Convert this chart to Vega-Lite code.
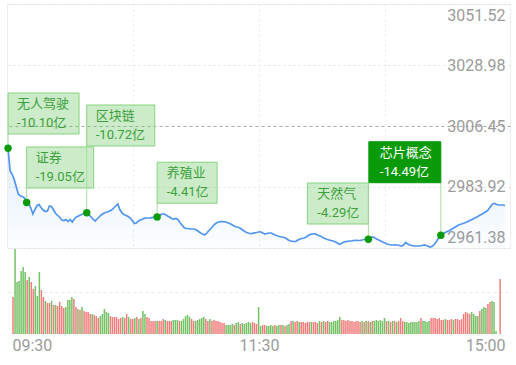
{
  "$schema": "https://vega.github.io/schema/vega-lite/v6.json",
  "padding": {"left": 3, "top": 3, "right": 6, "bottom": 0},
  "spacing": 1,
  "bounds": "flush",
  "config": {
    "font": "Roboto, 'Noto Sans CJK SC', sans-serif",
    "view": {"stroke": "#eeeeee"},
    "axis": {"labelFont": "Roboto", "labelColor": "#9b9b9b", "labelFontSize": 16, "title": null, "ticks": false, "domain": false, "minExtent": 0}
  },
  "datasets": {
    "ev": [
      {"i": 0, "p": 2998.21, "name": "无人驾驶", "amt": "-10.10亿"},
      {"i": 9, "p": 2978.19, "name": "证券", "amt": "-19.05亿"},
      {"i": 38, "p": 2974.42, "name": "区块链", "amt": "-10.72亿"},
      {"i": 72, "p": 2972.83, "name": "养殖业", "amt": "-4.41亿"},
      {"i": 174, "p": 2964.59, "name": "天然气", "amt": "-4.29亿"},
      {"i": 209, "p": 2966.07, "name": "芯片概念", "amt": "-14.49亿"}
    ],
    "m": [
      {"i":0,"p":2998.21,"v":37,"d":"up"},{"i":1,"p":2989.83,"v":85,"d":"down"},{"i":2,"p":2988.61,"v":52,"d":"down"},{"i":3,"p":2986.69,"v":53,"d":"down"},{"i":4,"p":2983.92,"v":63,"d":"down"},
      {"i":5,"p":2981.22,"v":67,"d":"down"},{"i":6,"p":2980.59,"v":62,"d":"down"},{"i":7,"p":2980.41,"v":54,"d":"up"},{"i":8,"p":2979.85,"v":57,"d":"down"},{"i":9,"p":2978.19,"v":52,"d":"up"},
      {"i":10,"p":2977.82,"v":45,"d":"up"},{"i":11,"p":2976.16,"v":48,"d":"down"},{"i":12,"p":2973.94,"v":38,"d":"down"},{"i":13,"p":2975.60,"v":62,"d":"down"},{"i":14,"p":2977.08,"v":44,"d":"up"},
      {"i":15,"p":2977.45,"v":37,"d":"up"},{"i":16,"p":2976.23,"v":33,"d":"down"},{"i":17,"p":2975.42,"v":31,"d":"up"},{"i":18,"p":2974.86,"v":31,"d":"up"},{"i":19,"p":2975.05,"v":33,"d":"down"},
      {"i":20,"p":2976.90,"v":29,"d":"up"},{"i":21,"p":2976.71,"v":29,"d":"down"},{"i":22,"p":2975.42,"v":28,"d":"up"},{"i":23,"p":2974.13,"v":32,"d":"up"},{"i":24,"p":2973.39,"v":28,"d":"up"},
      {"i":25,"p":2972.65,"v":26,"d":"up"},{"i":26,"p":2971.72,"v":27,"d":"down"},{"i":27,"p":2971.54,"v":34,"d":"down"},{"i":28,"p":2971.91,"v":34,"d":"down"},{"i":29,"p":2971.17,"v":37,"d":"down"},
      {"i":30,"p":2971.91,"v":35,"d":"up"},{"i":31,"p":2970.99,"v":27,"d":"up"},{"i":32,"p":2972.09,"v":25,"d":"down"},{"i":33,"p":2972.83,"v":24,"d":"up"},{"i":34,"p":2973.20,"v":27,"d":"down"},
      {"i":35,"p":2973.57,"v":23,"d":"up"},{"i":36,"p":2973.94,"v":22,"d":"up"},{"i":37,"p":2974.13,"v":22,"d":"up"},{"i":38,"p":2974.42,"v":20,"d":"up"},{"i":39,"p":2973.76,"v":20,"d":"down"},
      {"i":40,"p":2972.91,"v":19,"d":"up"},{"i":41,"p":2972.09,"v":18,"d":"up"},{"i":42,"p":2971.36,"v":16,"d":"up"},{"i":43,"p":2972.09,"v":18,"d":"down"},{"i":44,"p":2972.83,"v":20,"d":"down"},
      {"i":45,"p":2973.57,"v":25,"d":"down"},{"i":46,"p":2974.13,"v":22,"d":"down"},{"i":47,"p":2974.50,"v":21,"d":"down"},{"i":48,"p":2974.68,"v":18,"d":"up"},{"i":49,"p":2975.05,"v":17,"d":"up"},
      {"i":50,"p":2975.42,"v":17,"d":"up"},{"i":51,"p":2976.16,"v":17,"d":"up"},{"i":52,"p":2976.90,"v":15,"d":"up"},{"i":53,"p":2977.64,"v":16,"d":"up"},{"i":54,"p":2975.60,"v":17,"d":"down"},
      {"i":55,"p":2974.31,"v":16,"d":"up"},{"i":56,"p":2973.76,"v":20,"d":"up"},{"i":57,"p":2973.39,"v":17,"d":"down"},{"i":58,"p":2973.02,"v":15,"d":"up"},{"i":59,"p":2972.46,"v":15,"d":"up"},
      {"i":60,"p":2971.54,"v":16,"d":"down"},{"i":61,"p":2970.43,"v":17,"d":"up"},{"i":62,"p":2970.62,"v":15,"d":"down"},{"i":63,"p":2971.36,"v":16,"d":"up"},{"i":64,"p":2971.72,"v":23,"d":"down"},
      {"i":65,"p":2972.09,"v":20,"d":"down"},{"i":66,"p":2972.39,"v":17,"d":"up"},{"i":67,"p":2972.46,"v":16,"d":"up"},{"i":68,"p":2972.46,"v":13,"d":"up"},{"i":69,"p":2972.53,"v":13,"d":"up"},
      {"i":70,"p":2972.72,"v":13,"d":"up"},{"i":71,"p":2972.83,"v":13,"d":"down"},{"i":72,"p":2972.83,"v":13,"d":"up"},{"i":73,"p":2973.20,"v":13,"d":"up"},{"i":74,"p":2973.83,"v":15,"d":"up"},
      {"i":75,"p":2974.02,"v":14,"d":"down"},{"i":76,"p":2973.76,"v":13,"d":"up"},{"i":77,"p":2973.20,"v":13,"d":"up"},{"i":78,"p":2972.83,"v":13,"d":"up"},{"i":79,"p":2972.28,"v":14,"d":"down"},
      {"i":80,"p":2972.09,"v":14,"d":"down"},{"i":81,"p":2972.28,"v":14,"d":"down"},{"i":82,"p":2971.91,"v":13,"d":"up"},{"i":83,"p":2970.80,"v":13,"d":"down"},{"i":84,"p":2969.88,"v":15,"d":"down"},
      {"i":85,"p":2968.95,"v":18,"d":"down"},{"i":86,"p":2968.58,"v":19,"d":"down"},{"i":87,"p":2968.58,"v":17,"d":"down"},{"i":88,"p":2968.40,"v":15,"d":"up"},{"i":89,"p":2968.40,"v":13,"d":"up"},
      {"i":90,"p":2968.40,"v":13,"d":"down"},{"i":91,"p":2968.03,"v":14,"d":"down"},{"i":92,"p":2967.48,"v":15,"d":"down"},{"i":93,"p":2966.92,"v":16,"d":"down"},{"i":94,"p":2966.55,"v":17,"d":"down"},
      {"i":95,"p":2966.18,"v":15,"d":"up"},{"i":96,"p":2966.92,"v":13,"d":"up"},{"i":97,"p":2967.85,"v":15,"d":"down"},{"i":98,"p":2968.58,"v":13,"d":"up"},{"i":99,"p":2969.51,"v":14,"d":"up"},
      {"i":100,"p":2970.25,"v":13,"d":"up"},{"i":101,"p":2970.80,"v":13,"d":"up"},{"i":102,"p":2971.06,"v":12,"d":"up"},{"i":103,"p":2971.17,"v":11,"d":"up"},{"i":104,"p":2971.10,"v":11,"d":"up"},
      {"i":105,"p":2971.06,"v":9,"d":"down"},{"i":106,"p":2970.73,"v":9,"d":"down"},{"i":107,"p":2970.43,"v":9,"d":"down"},{"i":108,"p":2970.06,"v":10,"d":"down"},{"i":109,"p":2969.58,"v":9,"d":"up"},
      {"i":110,"p":2969.21,"v":11,"d":"down"},{"i":111,"p":2969.03,"v":12,"d":"down"},{"i":112,"p":2968.77,"v":10,"d":"up"},{"i":113,"p":2968.22,"v":11,"d":"down"},{"i":114,"p":2967.66,"v":10,"d":"down"},
      {"i":115,"p":2967.22,"v":11,"d":"down"},{"i":116,"p":2966.92,"v":12,"d":"down"},{"i":117,"p":2966.66,"v":11,"d":"down"},{"i":118,"p":2966.81,"v":12,"d":"up"},{"i":119,"p":2966.99,"v":11,"d":"up"},
      {"i":120,"p":2967.11,"v":10,"d":"up"},{"i":121,"p":2967.29,"v":27,"d":"down"},{"i":122,"p":2967.36,"v":8,"d":"down"},{"i":123,"p":2966.92,"v":9,"d":"up"},{"i":124,"p":2966.55,"v":9,"d":"up"},
      {"i":125,"p":2966.74,"v":8,"d":"down"},{"i":126,"p":2966.92,"v":8,"d":"down"},{"i":127,"p":2966.92,"v":9,"d":"down"},{"i":128,"p":2966.55,"v":8,"d":"down"},{"i":129,"p":2966.18,"v":9,"d":"up"},
      {"i":130,"p":2965.89,"v":8,"d":"down"},{"i":131,"p":2965.63,"v":9,"d":"down"},{"i":132,"p":2965.45,"v":9,"d":"up"},{"i":133,"p":2965.33,"v":9,"d":"down"},{"i":134,"p":2965.07,"v":8,"d":"up"},
      {"i":135,"p":2964.52,"v":9,"d":"down"},{"i":136,"p":2964.04,"v":10,"d":"down"},{"i":137,"p":2963.89,"v":13,"d":"up"},{"i":138,"p":2963.78,"v":13,"d":"down"},{"i":139,"p":2963.85,"v":12,"d":"up"},
      {"i":140,"p":2964.34,"v":13,"d":"up"},{"i":141,"p":2964.71,"v":12,"d":"down"},{"i":142,"p":2964.89,"v":12,"d":"up"},{"i":143,"p":2965.07,"v":12,"d":"up"},{"i":144,"p":2965.45,"v":11,"d":"up"},
      {"i":145,"p":2966.00,"v":12,"d":"up"},{"i":146,"p":2966.44,"v":12,"d":"up"},{"i":147,"p":2966.55,"v":12,"d":"down"},{"i":148,"p":2966.66,"v":12,"d":"up"},{"i":149,"p":2966.37,"v":12,"d":"up"},
      {"i":150,"p":2966.00,"v":11,"d":"up"},{"i":151,"p":2965.70,"v":13,"d":"down"},{"i":152,"p":2965.26,"v":12,"d":"up"},{"i":153,"p":2964.89,"v":13,"d":"down"},{"i":154,"p":2964.59,"v":12,"d":"up"},
      {"i":155,"p":2964.34,"v":13,"d":"up"},{"i":156,"p":2964.15,"v":12,"d":"down"},{"i":157,"p":2963.97,"v":12,"d":"down"},{"i":158,"p":2963.67,"v":13,"d":"down"},{"i":159,"p":2963.23,"v":13,"d":"down"},
      {"i":160,"p":2962.78,"v":14,"d":"down"},{"i":161,"p":2963.04,"v":17,"d":"down"},{"i":162,"p":2963.49,"v":14,"d":"up"},{"i":163,"p":2963.74,"v":14,"d":"up"},{"i":164,"p":2963.85,"v":13,"d":"up"},
      {"i":165,"p":2963.97,"v":14,"d":"up"},{"i":166,"p":2964.04,"v":13,"d":"up"},{"i":167,"p":2964.15,"v":13,"d":"up"},{"i":168,"p":2964.22,"v":12,"d":"up"},{"i":169,"p":2964.15,"v":13,"d":"up"},
      {"i":170,"p":2964.22,"v":13,"d":"up"},{"i":171,"p":2964.34,"v":12,"d":"up"},{"i":172,"p":2964.52,"v":13,"d":"down"},{"i":173,"p":2964.59,"v":12,"d":"up"},{"i":174,"p":2964.59,"v":13,"d":"down"},
      {"i":175,"p":2965.07,"v":13,"d":"up"},{"i":176,"p":2965.45,"v":12,"d":"down"},{"i":177,"p":2965.15,"v":13,"d":"up"},{"i":178,"p":2964.71,"v":13,"d":"down"},{"i":179,"p":2964.34,"v":14,"d":"down"},
      {"i":180,"p":2963.97,"v":13,"d":"down"},{"i":181,"p":2963.60,"v":14,"d":"down"},{"i":182,"p":2963.23,"v":13,"d":"down"},{"i":183,"p":2962.86,"v":16,"d":"down"},{"i":184,"p":2962.67,"v":13,"d":"up"},
      {"i":185,"p":2962.49,"v":13,"d":"down"},{"i":186,"p":2962.49,"v":12,"d":"up"},{"i":187,"p":2962.56,"v":13,"d":"down"},{"i":188,"p":2962.49,"v":13,"d":"up"},{"i":189,"p":2962.30,"v":12,"d":"down"},
      {"i":190,"p":2962.12,"v":13,"d":"up"},{"i":191,"p":2962.49,"v":16,"d":"up"},{"i":192,"p":2963.41,"v":13,"d":"up"},{"i":193,"p":2962.86,"v":12,"d":"down"},{"i":194,"p":2962.49,"v":12,"d":"down"},
      {"i":195,"p":2962.30,"v":11,"d":"down"},{"i":196,"p":2962.12,"v":12,"d":"down"},{"i":197,"p":2962.12,"v":12,"d":"down"},{"i":198,"p":2962.12,"v":12,"d":"down"},{"i":199,"p":2962.12,"v":12,"d":"down"},
      {"i":200,"p":2962.30,"v":13,"d":"down"},{"i":201,"p":2962.49,"v":16,"d":"up"},{"i":202,"p":2962.30,"v":13,"d":"down"},{"i":203,"p":2961.93,"v":13,"d":"down"},{"i":204,"p":2961.75,"v":12,"d":"down"},
      {"i":205,"p":2962.12,"v":13,"d":"down"},{"i":206,"p":2962.86,"v":16,"d":"up"},{"i":207,"p":2963.97,"v":16,"d":"up"},{"i":208,"p":2965.26,"v":16,"d":"up"},{"i":209,"p":2966.07,"v":15,"d":"up"},
      {"i":210,"p":2966.55,"v":16,"d":"up"},{"i":211,"p":2966.99,"v":14,"d":"up"},{"i":212,"p":2967.48,"v":14,"d":"up"},{"i":213,"p":2967.74,"v":15,"d":"down"},{"i":214,"p":2968.22,"v":14,"d":"up"},
      {"i":215,"p":2968.66,"v":14,"d":"up"},{"i":216,"p":2969.14,"v":15,"d":"up"},{"i":217,"p":2969.58,"v":14,"d":"down"},{"i":218,"p":2970.06,"v":15,"d":"up"},{"i":219,"p":2970.25,"v":15,"d":"up"},
      {"i":220,"p":2970.54,"v":14,"d":"up"},{"i":221,"p":2970.80,"v":15,"d":"up"},{"i":222,"p":2971.17,"v":20,"d":"up"},{"i":223,"p":2971.54,"v":22,"d":"up"},{"i":224,"p":2971.91,"v":21,"d":"up"},
      {"i":225,"p":2972.28,"v":20,"d":"up"},{"i":226,"p":2972.65,"v":22,"d":"down"},{"i":227,"p":2973.09,"v":20,"d":"down"},{"i":228,"p":2973.57,"v":18,"d":"down"},{"i":229,"p":2973.94,"v":18,"d":"down"},
      {"i":230,"p":2974.46,"v":23,"d":"up"},{"i":231,"p":2974.86,"v":25,"d":"down"},{"i":232,"p":2975.60,"v":27,"d":"down"},{"i":233,"p":2976.71,"v":26,"d":"down"},{"i":234,"p":2977.64,"v":30,"d":"up"},
      {"i":235,"p":2977.89,"v":32,"d":"up"},{"i":236,"p":2977.45,"v":33,"d":"down"},{"i":237,"p":2977.27,"v":32,"d":"down"},{"i":238,"p":2977.27,"v":3,"d":"down"},{"i":239,"p":2977.27,"v":0,"d":"down"},
      {"i":240,"p":2977.08,"v":55,"d":"up"}
    ]
  },
  "vconcat": [
    {
      "width": 503,
      "height": 244,
      "encoding": {
        "x": {"field": "i", "type": "quantitative", "scale": {"domain": [-0.5, 242.4], "nice": false, "zero": false},
              "axis": {"values": [60.4, 121.2, 182], "labels": false, "grid": true, "gridDash": [2, 3], "gridColor": "#e8e8e8"}},
        "y": {"field": "p", "type": "quantitative", "scale": {"domain": [2961.38, 3051.52], "nice": false, "zero": false},
              "axis": {"orient": "right", "values": [2961.38, 2983.92, 3006.45, 3028.98, 3051.52], "format": ".2f",
                       "labelAlign": "right", "labelPadding": -5, "labelFlush": true, "labelFlushOffset": -3,
                       "grid": true,
                       "gridDash": {"condition": {"test": "abs(datum.value - 3006.45) < 0.01", "value": [3, 3]}, "value": [2, 3]},
                       "gridColor": {"condition": {"test": "abs(datum.value - 3006.45) < 0.01", "value": "#a8a8a8"}, "value": "#e2e2e2"}}}
      },
      "layer": [
        {"data": {"name": "m"},
         "mark": {"type": "area", "color": {"gradient": "linear", "x1": 0, "y1": 0, "x2": 0, "y2": 1,
                  "stops": [{"offset": 0, "color": "rgba(80,150,240,0.16)"}, {"offset": 1, "color": "rgba(80,150,240,0.02)"}]}},
         "encoding": {"y2": {"datum": 2961.38}}},
        {"data": {"name": "m"},
         "mark": {"type": "line", "color": "#5096f0", "strokeWidth": 1.7}},
        {"data": {"name": "ev"},
         "layer": [
           {"transform": [{"filter": "datum.name === '无人驾驶'"}],
            "layer": [
              {"mark": {"type": "rect", "width": 1, "height": 14, "yOffset": -7.3, "fill": "#a6dca0"}},
              {"mark": {"type": "rect", "width": 71, "height": 41, "xOffset": 35.5, "yOffset": -34.8, "fill": "#6cc864", "fillOpacity": 0.35, "stroke": "#86d37e", "strokeWidth": 1}},
              {"mark": {"type": "text", "align": "left", "baseline": "middle", "dx": 9, "dy": -44.3, "fontSize": 13, "color": "#3c9f3c"}, "encoding": {"text": {"field": "name"}}},
              {"mark": {"type": "text", "align": "left", "baseline": "middle", "dx": 9, "dy": -25.3, "fontSize": 13, "color": "#3c9f3c"}, "encoding": {"text": {"field": "amt"}}}
            ]},
           {"transform": [{"filter": "datum.name === '证券'"}],
            "layer": [
              {"mark": {"type": "rect", "width": 1, "height": 14, "yOffset": -7.5, "fill": "#a6dca0"}},
              {"mark": {"type": "rect", "width": 67, "height": 41, "xOffset": 33.5, "yOffset": -35, "fill": "#6cc864", "fillOpacity": 0.35, "stroke": "#86d37e", "strokeWidth": 1}},
              {"mark": {"type": "text", "align": "left", "baseline": "middle", "dx": 9, "dy": -44.5, "fontSize": 13, "color": "#3c9f3c"}, "encoding": {"text": {"field": "name"}}},
              {"mark": {"type": "text", "align": "left", "baseline": "middle", "dx": 9, "dy": -25.5, "fontSize": 13, "color": "#3c9f3c"}, "encoding": {"text": {"field": "amt"}}}
            ]},
           {"transform": [{"filter": "datum.name === '区块链'"}],
            "layer": [
              {"mark": {"type": "rect", "width": 1, "height": 66.5, "yOffset": -33.5, "fill": "#a6dca0"}},
              {"mark": {"type": "rect", "width": 68, "height": 41, "xOffset": 34, "yOffset": -87.2, "fill": "#6cc864", "fillOpacity": 0.35, "stroke": "#86d37e", "strokeWidth": 1}},
              {"mark": {"type": "text", "align": "left", "baseline": "middle", "dx": 9, "dy": -96.7, "fontSize": 13, "color": "#3c9f3c"}, "encoding": {"text": {"field": "name"}}},
              {"mark": {"type": "text", "align": "left", "baseline": "middle", "dx": 9, "dy": -77.7, "fontSize": 13, "color": "#3c9f3c"}, "encoding": {"text": {"field": "amt"}}}
            ]},
           {"transform": [{"filter": "datum.name === '养殖业'"}],
            "layer": [
              {"mark": {"type": "rect", "width": 1, "height": 13.5, "yOffset": -6.8, "fill": "#a6dca0"}},
              {"mark": {"type": "rect", "width": 60, "height": 41, "xOffset": 30, "yOffset": -34.3, "fill": "#6cc864", "fillOpacity": 0.35, "stroke": "#86d37e", "strokeWidth": 1}},
              {"mark": {"type": "text", "align": "left", "baseline": "middle", "dx": 9.5, "dy": -43.8, "fontSize": 13, "color": "#3c9f3c"}, "encoding": {"text": {"field": "name"}}},
              {"mark": {"type": "text", "align": "left", "baseline": "middle", "dx": 9.5, "dy": -24.8, "fontSize": 13, "color": "#3c9f3c"}, "encoding": {"text": {"field": "amt"}}}
            ]},
           {"transform": [{"filter": "datum.name === '天然气'"}],
            "layer": [
              {"mark": {"type": "rect", "width": 1, "height": 15, "yOffset": -7.8, "fill": "#a6dca0"}},
              {"mark": {"type": "rect", "width": 61, "height": 41, "xOffset": -30.5, "yOffset": -35.8, "fill": "#6cc864", "fillOpacity": 0.35, "stroke": "#86d37e", "strokeWidth": 1}},
              {"mark": {"type": "text", "align": "left", "baseline": "middle", "dx": -51, "dy": -45.3, "fontSize": 13, "color": "#3c9f3c"}, "encoding": {"text": {"field": "name"}}},
              {"mark": {"type": "text", "align": "left", "baseline": "middle", "dx": -51, "dy": -26.3, "fontSize": 13, "color": "#3c9f3c"}, "encoding": {"text": {"field": "amt"}}}
            ]},
           {"transform": [{"filter": "datum.name === '芯片概念'"}],
            "layer": [
              {"mark": {"type": "rect", "width": 1, "height": 52.6, "yOffset": -26.5, "fill": "#a6dca0"}},
              {"mark": {"type": "rect", "width": 72, "height": 41, "xOffset": -36, "yOffset": -73.1, "fill": "#099a09", "stroke": "#099a09", "strokeWidth": 1}},
              {"mark": {"type": "text", "align": "left", "baseline": "middle", "dx": -61, "dy": -82.6, "fontSize": 13, "color": "#ffffff"}, "encoding": {"text": {"field": "name"}}},
              {"mark": {"type": "text", "align": "left", "baseline": "middle", "dx": -61, "dy": -63.6, "fontSize": 13, "color": "#ffffff"}, "encoding": {"text": {"field": "amt"}}}
            ]},
           {"mark": {"type": "point", "filled": true, "size": 55, "opacity": 1, "color": "#0a9a0a"}}
         ]}
      ]
    },
    {
      "width": 503,
      "height": 85,
      "view": {"stroke": null},
      "data": {"name": "m"},
      "mark": {"type": "bar", "size": 1.5},
      "encoding": {
        "x": {"field": "i", "type": "quantitative", "scale": {"domain": [-0.5, 242.4], "nice": false, "zero": false},
              "axis": {"values": [-0.5, 121.2, 242.4], "labelPadding": 3, "grid": false,
                       "labelAlign": {"condition": [{"test": "datum.value < 10", "value": "left"}, {"test": "datum.value > 200", "value": "right"}], "value": "center"},
                       "labelExpr": "datum.value < 10 ? '09:30' : datum.value > 200 ? '15:00' : '11:30'"}},
        "y": {"field": "v", "type": "quantitative", "scale": {"domain": [0, 85], "nice": false},
              "axis": {"values": [42.5], "labels": false, "grid": true, "gridDash": [3, 3], "gridColor": "#e6e6e6"}},
        "color": {"field": "d", "type": "nominal", "scale": {"domain": ["up", "down"], "range": ["#f27c7c", "#72c163"]}, "legend": null}
      }
    }
  ]
}
